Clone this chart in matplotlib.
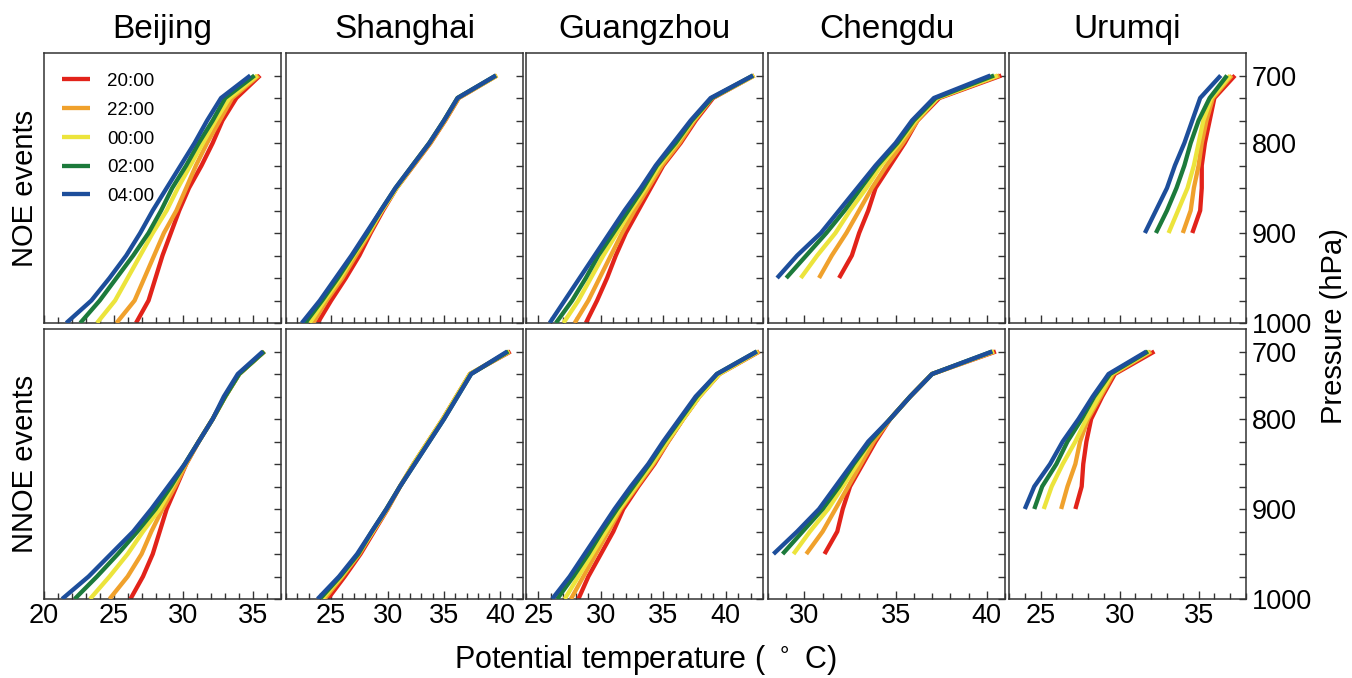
import numpy as np
import matplotlib
matplotlib.use("Agg")
import matplotlib.pyplot as plt

plt.rcParams['font.family'] = ['Liberation Sans', 'DejaVu Sans']

# ---------------- data ----------------
pressure_levels = [1000, 975, 950, 925, 900, 875, 850, 825, 800, 775, 750, 700]
times = ["20:00", "22:00", "00:00", "02:00", "04:00"]
cities = ["Beijing", "Shanghai", "Guangzhou", "Chengdu", "Urumqi"]
row_labels = ["NOE events", "NNOE events"]
pressure_ticks = [700, 800, 900, 1000]
xlims = [(20, 37), (21, 42), (24, 43), (28, 41), (23, 38)]
xticks_major = [[20, 25, 30, 35], [25, 30, 35, 40], [25, 30, 35, 40],
                [30, 35, 40], [25, 30, 35]]

nan = np.nan
# each panel: rows = 20:00, 22:00, 00:00, 02:00, 04:00 ; columns = levels 1000 -> 700 hPa
beijing_noe = [
    [26.6, 27.5, 28.0, 28.5, 29.1, 29.7, 30.4, 31.3, 32.1, 32.8, 33.8, 35.5],
    [25.2, 26.5, 27.2, 27.9, 28.6, 29.5, 30.2, 30.9, 31.7, 32.6, 33.5, 35.4],
    [23.8, 25.1, 26.0, 26.9, 27.8, 28.8, 29.6, 30.5, 31.4, 32.3, 33.3, 35.3],
    [22.6, 24.0, 25.2, 26.4, 27.5, 28.4, 29.2, 30.2, 31.1, 32.1, 33.0, 35.1],
    [21.6, 23.4, 24.7, 25.9, 26.9, 27.8, 28.8, 29.8, 30.8, 31.7, 32.7, 34.8],
]
beijing_nnoe = [
    [26.2, 27.1, 27.8, 28.3, 28.8, 29.5, 30.2, 31.1, 32.1, 33.0, 34.0, 35.8],
    [24.7, 26.0, 27.0, 27.7, 28.5, 29.4, 30.2, 31.1, 32.1, 33.0, 34.0, 35.8],
    [23.3, 24.7, 26.0, 27.1, 28.3, 29.2, 30.1, 31.1, 32.1, 33.0, 34.0, 35.8],
    [22.2, 23.8, 25.3, 26.7, 28.0, 29.1, 30.1, 31.1, 32.1, 33.0, 34.0, 35.8],
    [21.3, 23.2, 24.8, 26.4, 27.7, 28.9, 30.1, 31.1, 32.1, 32.9, 33.9, 35.7],
]
shanghai_noe = [
    [23.8, 25.0, 26.3, 27.5, 28.5, 29.6, 30.8, 32.3, 33.8, 35.1, 36.3, 39.7],
    [23.4, 24.6, 26.0, 27.2, 28.4, 29.5, 30.8, 32.3, 33.8, 35.1, 36.3, 39.7],
    [23.1, 24.4, 25.8, 27.0, 28.3, 29.5, 30.8, 32.2, 33.7, 35.0, 36.2, 39.7],
    [22.7, 24.2, 25.6, 26.9, 28.2, 29.4, 30.7, 32.2, 33.7, 35.0, 36.2, 39.6],
    [22.4, 24.0, 25.4, 26.8, 28.1, 29.4, 30.7, 32.2, 33.7, 35.0, 36.2, 39.6],
]
shanghai_nnoe = [
    [24.7, 26.2, 27.6, 28.8, 30.0, 31.1, 32.3, 33.6, 34.9, 36.1, 37.3, 40.9],
    [24.4, 26.0, 27.5, 28.7, 30.0, 31.1, 32.3, 33.6, 34.9, 36.1, 37.3, 40.8],
    [24.2, 25.9, 27.4, 28.7, 29.9, 31.1, 32.3, 33.6, 34.9, 36.1, 37.3, 40.8],
    [24.0, 25.8, 27.4, 28.6, 29.9, 31.1, 32.4, 33.7, 35.0, 36.2, 37.4, 40.7],
    [23.8, 25.7, 27.3, 28.6, 29.9, 31.1, 32.4, 33.7, 35.0, 36.2, 37.4, 40.6],
]
guangzhou_noe = [
    [28.8, 29.7, 30.5, 31.2, 32.0, 33.0, 34.0, 35.0, 36.4, 37.6, 39.0, 42.3],
    [27.9, 29.0, 29.9, 30.8, 31.7, 32.7, 33.8, 34.9, 36.3, 37.5, 38.9, 42.3],
    [27.0, 28.2, 29.2, 30.2, 31.3, 32.4, 33.6, 34.7, 36.1, 37.4, 38.9, 42.3],
    [26.4, 27.7, 28.8, 29.8, 31.0, 32.2, 33.4, 34.5, 36.0, 37.3, 38.9, 42.2],
    [25.9, 27.1, 28.3, 29.5, 30.7, 31.9, 33.2, 34.4, 35.8, 37.2, 38.8, 42.2],
]
guangzhou_nnoe = [
    [28.2, 29.0, 30.0, 31.0, 31.8, 33.0, 34.3, 35.4, 36.6, 37.9, 39.5, 42.7],
    [27.6, 28.6, 29.6, 30.6, 31.6, 32.9, 34.2, 35.4, 36.6, 37.9, 39.5, 42.7],
    [27.1, 28.2, 29.3, 30.4, 31.5, 32.8, 34.1, 35.3, 36.6, 37.9, 39.5, 42.6],
    [26.5, 27.8, 29.0, 30.1, 31.3, 32.6, 33.9, 35.1, 36.4, 37.7, 39.3, 42.5],
    [26.1, 27.5, 28.7, 29.9, 31.1, 32.4, 33.8, 35.0, 36.3, 37.6, 39.3, 42.5],
]
chengdu_noe = [
    [nan, nan, 31.9, 32.6, 33.0, 33.5, 33.9, 34.7, 35.5, 36.2, 37.4, 40.8],
    [nan, nan, 30.8, 31.5, 32.3, 33.0, 33.7, 34.5, 35.4, 36.2, 37.3, 40.7],
    [nan, nan, 29.8, 30.7, 31.7, 32.5, 33.4, 34.2, 35.2, 36.1, 37.3, 40.6],
    [nan, nan, 29.0, 30.1, 31.2, 32.2, 33.1, 34.0, 35.1, 36.0, 37.2, 40.4],
    [nan, nan, 28.5, 29.6, 30.9, 31.9, 32.9, 33.9, 35.0, 35.9, 37.1, 40.2],
]
chengdu_nnoe = [
    [nan, nan, 31.1, 31.8, 32.1, 32.5, 33.2, 33.9, 34.7, 35.8, 37.0, 40.5],
    [nan, nan, 30.1, 31.0, 31.7, 32.4, 33.1, 33.8, 34.7, 35.8, 37.0, 40.4],
    [nan, nan, 29.4, 30.3, 31.3, 32.1, 32.9, 33.6, 34.7, 35.8, 37.0, 40.4],
    [nan, nan, 28.8, 29.9, 31.0, 31.9, 32.7, 33.6, 34.7, 35.8, 37.0, 40.3],
    [nan, nan, 28.3, 29.6, 30.8, 31.7, 32.6, 33.5, 34.7, 35.8, 37.0, 40.3],
]
urumqi_noe = [
    [nan, nan, nan, nan, 34.6, 35.1, 35.2, 35.2, 35.4, 35.7, 36.0, 37.3],
    [nan, nan, nan, nan, 34.0, 34.5, 34.7, 35.0, 35.2, 35.5, 35.9, 37.1],
    [nan, nan, nan, nan, 33.1, 33.7, 34.3, 34.7, 35.0, 35.3, 35.8, 37.0],
    [nan, nan, nan, nan, 32.3, 33.0, 33.6, 34.1, 34.5, 35.0, 35.7, 36.8],
    [nan, nan, nan, nan, 31.6, 32.3, 33.0, 33.5, 34.1, 34.6, 35.1, 36.4],
]
urumqi_nnoe = [
    [nan, nan, nan, nan, 27.2, 27.6, 27.7, 27.9, 28.2, 28.9, 29.7, 32.2],
    [nan, nan, nan, nan, 26.3, 26.7, 27.2, 27.5, 28.0, 28.8, 29.6, 32.0],
    [nan, nan, nan, nan, 25.2, 25.7, 26.4, 27.2, 27.9, 28.7, 29.5, 31.9],
    [nan, nan, nan, nan, 24.6, 25.1, 26.0, 26.7, 27.6, 28.4, 29.4, 31.8],
    [nan, nan, nan, nan, 24.0, 24.6, 25.6, 26.4, 27.4, 28.3, 29.3, 31.7],
]

panels = [
    [beijing_noe, shanghai_noe, guangzhou_noe, chengdu_noe, urumqi_noe],
    [beijing_nnoe, shanghai_nnoe, guangzhou_nnoe, chengdu_nnoe, urumqi_nnoe],
]
colors = ['#e2231a', '#f0a12c', '#ece43c', '#1c7a3b', '#1d4e9b']

# ---------------- figure ----------------
W, H = 1352, 678
fig = plt.figure(figsize=(W / 100, H / 100), dpi=100)

col_left = [44, 286, 526, 768, 1009]
col_w = 237
row_top = [53, 329]
row_h = 270

level_idx = np.arange(len(pressure_levels))

for r in range(2):
    for c in range(5):
        x0 = col_left[c]
        y0 = row_top[r]
        ax = fig.add_axes([x0 / W, 1 - (y0 + row_h) / H, col_w / W, row_h / H])
        data = panels[r][c]
        for k in range(len(times)):
            vals = np.array(data[k], dtype=float)
            m = ~np.isnan(vals)
            ax.plot(vals[m], level_idx[m], color=colors[k], lw=3.1,
                    solid_capstyle='butt', label=times[k], zorder=2 + k)
        ax.set_xlim(*xlims[c])
        ax.set_ylim(0, 12)
        ax.set_xticks(xticks_major[c])
        ax.set_xticks(np.arange(int(np.ceil(xlims[c][0])), int(xlims[c][1]) + 1), minor=True)
        ax.set_yticks(level_idx)
        ax.yaxis.tick_right()
        ax.tick_params(axis='y', which='both', direction='in', length=5, width=1,
                       color='#333333', right=True, left=False)
        ax.tick_params(axis='x', which='major', direction='in', length=6, width=1,
                       color='#333333', labelsize=19.5, pad=3)
        ax.tick_params(axis='x', which='minor', direction='in', length=4, width=1,
                       color='#333333')
        if c == 4:
            ax.set_yticklabels([str(p) if p in pressure_ticks else '' for p in pressure_levels],
                               fontsize=19.5)
            ax.tick_params(axis='y', pad=4)
        else:
            ax.set_yticklabels([])
        if r == 0:
            ax.set_xticklabels([])
            ax.set_title(cities[c], fontsize=24, pad=11)
        for s in ax.spines.values():
            s.set_color('#333333')
            s.set_linewidth(1.1)
        if r == 0 and c == 0:
            ax.legend(loc='upper left', frameon=False, fontsize=13.5,
                      handlelength=1.5, handletextpad=0.9, labelspacing=0.62,
                      borderaxespad=0.3, bbox_to_anchor=(0.02, 0.975))

fig.text(25 / W, 1 - 188 / H, row_labels[0], rotation=90, fontsize=21,
         ha='center', va='center')
fig.text(25 / W, 1 - 464 / H, row_labels[1], rotation=90, fontsize=21,
         ha='center', va='center')
fig.text(1334 / W, 1 - 326 / H, "Pressure (hPa)", rotation=90, fontsize=21,
         ha='center', va='center')
fig.text(645 / W, 1 - 660 / H, "Potential temperature ( $^\\circ$ C)", fontsize=22,
         ha='center', va='center')

fig.savefig("out.png", dpi=100)
